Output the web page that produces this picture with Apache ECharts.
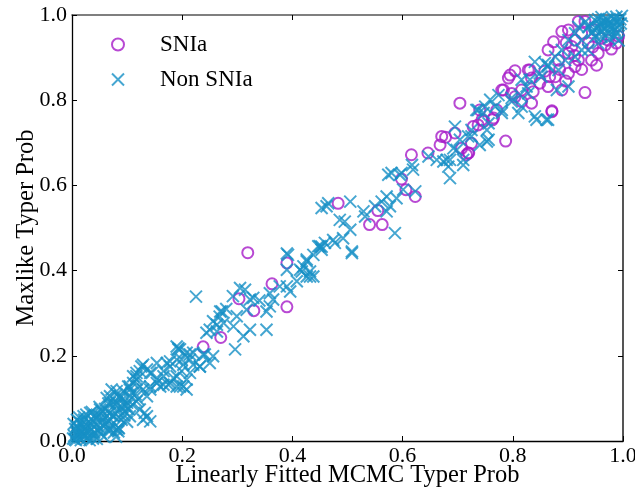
<!DOCTYPE html>
<html>
<head>
<meta charset="utf-8">
<script src="https://cdn.jsdelivr.net/npm/echarts@6/dist/echarts.min.js"></script>
<style>
  html, body { margin: 0; padding: 0; background: #fff; }
  #chart { width: 635px; height: 491px; }
</style>
</head>
<body>
<div id="chart"></div>
<script>
// Axis ticks shared by both axes
const tickValues = [0.0, 0.2, 0.4, 0.6, 0.8, 1.0];

// SNIa objects: [linearly fitted MCMC prob, maxlike prob]
const snIa = [
  [0.319,0.442],[0.303,0.334],[0.330,0.306],[0.363,0.369],[0.390,0.418],[0.390,0.315],
  [0.238,0.221],[0.270,0.243],
  [0.483,0.558],[0.555,0.541],[0.540,0.508],[0.563,0.508],[0.598,0.615],[0.606,0.590],
  [0.623,0.574],[0.616,0.672],[0.646,0.676],[0.668,0.695],[0.716,0.672],
  [0.671,0.715],[0.678,0.713],[0.695,0.723],[0.707,0.687],[0.720,0.676],[0.704,0.793],
  [0.737,0.742],[0.744,0.754],[0.763,0.754],[0.771,0.777],[0.787,0.704],[0.740,0.777],
  [0.765,0.758],[0.747,0.750],[0.728,0.738],[0.725,0.699],[0.719,0.676],
  [0.780,0.824],[0.792,0.852],[0.804,0.869],[0.828,0.871],[0.834,0.852],[0.804,0.808],
  [0.816,0.824],[0.834,0.793],[0.871,0.773],[0.864,0.832],[0.877,0.855],[0.901,0.863],
  [0.931,0.818],[0.889,0.824],[0.864,0.918],[0.874,0.937],[0.889,0.961],[0.901,0.965],
  [0.919,0.985],[0.925,0.957],[0.907,0.926],[0.919,0.894],[0.943,0.894],[0.955,0.910],
  [0.979,0.920],[0.988,0.934],[0.973,0.941],[0.901,0.910],[0.883,0.894],[0.913,0.941],
  [0.937,0.934],[0.949,0.965],[0.931,0.985],[0.913,0.879],[0.795,0.859],[0.783,0.824],
  [0.798,0.816],[0.837,0.820],[0.816,0.797],[0.831,0.871],[0.849,0.840],[0.867,0.855],
  [0.871,0.775],[0.896,0.845],[0.912,0.905],[0.945,0.925],[0.960,0.945],[0.897,0.935],
  [0.885,0.872],[0.858,0.868],[0.925,0.872],[0.952,0.882],[0.968,0.930],[0.992,0.950]
];

// Non SNIa objects: [linearly fitted MCMC prob, maxlike prob]
const nonSnIa = [
  // low-probability cluster
  [0.005,0.004],[0.010,0.012],[0.015,0.008],[0.008,0.020],[0.020,0.015],[0.025,0.022],
  [0.012,0.030],[0.030,0.010],[0.035,0.028],[0.018,0.040],[0.028,0.035],[0.040,0.020],
  [0.045,0.038],[0.022,0.050],[0.038,0.048],[0.050,0.030],[0.055,0.045],[0.048,0.060],
  [0.060,0.055],[0.003,0.040],[0.006,0.028],[0.032,0.002],[0.045,0.005],[0.058,0.010],
  [0.065,0.025],[0.062,0.040],[0.070,0.050],[0.068,0.065],[0.075,0.060],[0.080,0.072],
  [0.085,0.055],[0.078,0.085],[0.090,0.080],[0.095,0.070],[0.100,0.090],[0.092,0.098],
  [0.105,0.105],[0.110,0.085],[0.115,0.110],[0.120,0.098],[0.060,0.075],[0.055,0.070],
  [0.042,0.060],[0.070,0.035],[0.076,0.020],[0.085,0.030],[0.100,0.045],[0.095,0.060],
  [0.102,0.075],[0.013,0.055],[0.026,0.062],[0.036,0.068],[0.050,0.080],[0.066,0.088],
  [0.004,0.012],[0.016,0.002],[0.040,0.014],[0.052,0.018],[0.024,0.028],[0.080,0.010],
  [0.084,0.023],[0.069,0.027],[0.136,0.058],[0.142,0.160],[0.117,0.160],[0.105,0.121],
  [0.069,0.105],[0.081,0.090],[0.096,0.082],[0.117,0.093],[0.123,0.074],[0.132,0.066],
  [0.105,0.058],[0.090,0.050],[0.033,0.066],[0.021,0.058],[0.009,0.050],[0.051,0.074],
  [0.129,0.050],[0.081,0.027],[0.069,0.066],[0.099,0.082],[0.075,0.090],[0.087,0.105],
  [0.108,0.113],[0.136,0.105],[0.123,0.128],[0.111,0.152],[0.142,0.046],[0.084,0.031],
  [0.075,0.058],[0.069,0.090],[0.081,0.117],[0.087,0.101],[0.072,0.121],[0.063,0.101],
  [0.002,0.006],[0.018,0.022],[0.030,0.045],[0.044,0.052],[0.058,0.035],[0.009,0.035],
  [0.012,0.018],[0.027,0.006],[0.036,0.038],[0.047,0.026],[0.020,0.032],[0.038,0.006],
  [0.054,0.056],[0.065,0.048],[0.031,0.022],[0.014,0.044],[0.007,0.002],[0.022,0.010],
  // rising band
  [0.190,0.222],[0.208,0.207],[0.214,0.191],[0.202,0.179],[0.178,0.175],[0.154,0.183],
  [0.136,0.168],[0.126,0.175],[0.117,0.152],[0.102,0.128],[0.111,0.136],[0.129,0.121],
  [0.142,0.128],[0.154,0.136],[0.166,0.152],[0.178,0.136],[0.190,0.128],[0.208,0.144],
  [0.193,0.218],[0.199,0.191],[0.178,0.187],[0.129,0.179],[0.123,0.164],[0.145,0.160],
  [0.166,0.164],[0.190,0.152],[0.214,0.160],[0.232,0.175],[0.238,0.203],[0.244,0.254],
  [0.175,0.132],[0.196,0.128],[0.208,0.121],[0.160,0.128],[0.142,0.121],[0.105,0.128],
  [0.093,0.117],[0.081,0.109],[0.117,0.144],[0.154,0.144],[0.166,0.132],[0.184,0.148],
  [0.202,0.128],[0.220,0.207],[0.193,0.215],[0.172,0.183],[0.199,0.164],[0.232,0.175],
  [0.225,0.339],[0.392,0.437],[0.453,0.456],[0.426,0.422],[0.417,0.398],[0.390,0.402],
  [0.438,0.386],[0.408,0.375],[0.377,0.363],[0.396,0.351],[0.359,0.347],[0.359,0.316],
  [0.353,0.261],[0.323,0.332],[0.305,0.359],[0.317,0.308],[0.299,0.293],[0.269,0.304],
  [0.256,0.281],[0.275,0.277],[0.311,0.246],[0.323,0.261],[0.296,0.215],[0.256,0.199],
  [0.263,0.257],[0.241,0.203],[0.214,0.203],[0.196,0.215],[0.190,0.191],[0.220,0.179],
  [0.250,0.183],[0.390,0.440],[0.314,0.355],[0.292,0.340],[0.329,0.336],[0.263,0.273],
  [0.272,0.304],[0.250,0.261],[0.293,0.269],[0.353,0.304],[0.365,0.332],[0.390,0.363],
  [0.414,0.402],[0.432,0.386],[0.447,0.457],[0.268,0.292],[0.280,0.310],[0.340,0.330],
  // upper band
  [0.462,0.551],[0.505,0.562],[0.486,0.519],[0.495,0.515],[0.505,0.496],[0.529,0.539],
  [0.532,0.527],[0.562,0.562],[0.571,0.539],[0.586,0.488],[0.577,0.551],[0.589,0.570],
  [0.601,0.590],[0.574,0.625],[0.595,0.625],[0.617,0.648],[0.619,0.637],[0.623,0.586],
  [0.680,0.660],[0.686,0.617],[0.710,0.648],[0.698,0.683],[0.474,0.472],[0.459,0.465],
  [0.450,0.457],[0.492,0.476],[0.508,0.445],[0.438,0.437],[0.426,0.426],[0.420,0.410],
  [0.432,0.398],[0.426,0.386],[0.453,0.449],[0.477,0.465],[0.508,0.441],
  [0.453,0.547],[0.465,0.558],[0.550,0.551],[0.571,0.574],[0.580,0.629],[0.598,0.629],
  [0.647,0.668],[0.662,0.660],[0.674,0.656],[0.683,0.644],[0.719,0.715],[0.737,0.777],
  [0.747,0.770],[0.756,0.746],[0.753,0.703],[0.725,0.730],[0.695,0.738],
  [0.734,0.777],[0.750,0.785],[0.759,0.801],[0.774,0.812],[0.780,0.770],[0.753,0.730],
  [0.756,0.707],[0.740,0.695],[0.725,0.715],[0.704,0.707],[0.692,0.687],[0.686,0.660],
  [0.710,0.660],[0.798,0.797],[0.813,0.812],[0.825,0.832],[0.843,0.754],[0.861,0.754],
  [0.880,0.824],[0.849,0.863],[0.864,0.883],[0.831,0.848],
  [0.768,0.785],[0.780,0.777],[0.798,0.805],[0.816,0.785],[0.810,0.770],[0.840,0.762],
  [0.864,0.754],[0.828,0.816],[0.816,0.848],[0.840,0.890],[0.852,0.855],[0.864,0.879],
  [0.883,0.871],[0.901,0.832],[0.895,0.894],[0.913,0.902],[0.925,0.918],[0.937,0.918],
  [0.955,0.934],[0.961,0.949],[0.973,0.957],[0.985,0.965],[0.985,0.988],[0.967,0.983],
  [0.949,0.988],[0.937,0.972],[0.925,0.941],[0.913,0.957],[0.919,0.972],[0.931,0.983],
  [0.955,0.972],[0.973,0.988],[0.992,0.976],[0.988,0.957],[0.961,0.995],[0.943,0.957],
  [0.901,0.941],[0.889,0.918],[0.877,0.902],[0.858,0.887],
  [0.995,0.990],[0.980,0.975],[0.970,0.990],[0.990,0.970],[0.960,0.960],[0.975,0.945],
  [0.950,0.950],[0.940,0.975],[0.985,0.950],[0.965,0.975],[0.955,0.990],[0.945,0.960],
  [0.998,0.998],[0.990,0.985],[0.978,0.965],[0.968,0.968],[0.958,0.978],[0.992,0.940],
  [0.982,0.992],[0.996,0.980],[0.972,0.978],[0.962,0.985],[0.988,0.996],[0.950,0.970]
];

const purple = '#a61cc8';
const cyan = '#1790c5';
const serif = '"Liberation Serif", "DejaVu Serif", serif';
const crossPath = 'path://M0,0L10,10M0,10L10,0';

const chart = echarts.init(document.getElementById('chart'), null, { renderer: 'canvas' });

const baseAxis = {
  type: 'value', min: 0, max: 1, interval: 0.2,
  splitLine: { show: false },
  axisTick: { show: true, inside: true, length: 5, lineStyle: { color: '#000', width: 1 } },
  minorTick: { show: false }
};

chart.setOption({
  animation: false,
  backgroundColor: '#fff',
  grid: { left: 72, top: 15, right: 12, bottom: 50, outerBoundsMode: 'none', containLabel: false },
  legend: {
    orient: 'vertical', left: 106, top: 28, itemGap: 12,
    itemWidth: 30, itemHeight: 12,
    textStyle: { fontFamily: serif, fontSize: 23, color: '#000', padding: [0, 0, 0, 22] },
    data: [
      { name: 'SNIa', icon: 'circle', itemStyle: { color: 'transparent', borderColor: purple, borderWidth: 2 } },
      { name: 'Non SNIa', icon: crossPath, itemStyle: { color: 'transparent', borderColor: cyan, borderWidth: 2 } }
    ]
  },
  xAxis: [
    Object.assign({}, baseAxis, {
      position: 'bottom',
      name: 'Linearly Fitted MCMC Typer Prob', nameLocation: 'middle', nameGap: 22,
      nameMoveOverlap: false,
      nameTextStyle: { fontFamily: serif, fontSize: 24.5, color: '#000', verticalAlign: 'top' },
      axisLine: { show: true, onZero: false, lineStyle: { color: '#000', width: 1.3 } },
      axisLabel: { fontFamily: serif, fontSize: 22, color: '#000', margin: 4,
        formatter: v => v.toFixed(1) }
    }),
    Object.assign({}, baseAxis, {
      position: 'top', gridIndex: 0,
      axisLine: { show: true, onZero: false, lineStyle: { color: '#555', width: 1.6 } },
      axisLabel: { show: false }
    })
  ],
  yAxis: [
    Object.assign({}, baseAxis, {
      position: 'left',
      name: 'Maxlike Typer Prob', nameLocation: 'middle', nameGap: 33,
      nameMoveOverlap: false,
      nameTextStyle: { fontFamily: serif, fontSize: 24.5, color: '#000' },
      axisLine: { show: true, onZero: false, lineStyle: { color: '#000', width: 1.3 } },
      axisLabel: { fontFamily: serif, fontSize: 22, color: '#000', margin: 5,
        formatter: v => v.toFixed(1) }
    }),
    Object.assign({}, baseAxis, {
      position: 'right', gridIndex: 0,
      axisLine: { show: true, onZero: false, lineStyle: { color: '#555', width: 2 } },
      axisLabel: { show: false }
    })
  ],
  series: [
    {
      name: 'SNIa', type: 'scatter', xAxisIndex: 0, yAxisIndex: 0,
      data: snIa, symbol: 'circle', symbolSize: 11,
      itemStyle: { color: 'transparent', borderColor: purple, borderWidth: 2 },
      emphasis: { disabled: true }
    },
    {
      name: 'Non SNIa', type: 'scatter', xAxisIndex: 0, yAxisIndex: 0,
      data: nonSnIa, symbol: crossPath, symbolSize: 12,
      itemStyle: { color: 'transparent', borderColor: cyan, borderWidth: 2 },
      emphasis: { disabled: true }
    }
  ]
});
</script>
</body>
</html>
